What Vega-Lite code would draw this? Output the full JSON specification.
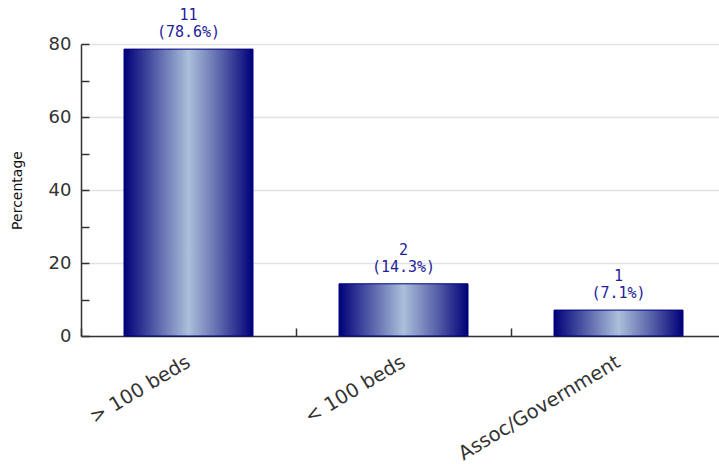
{
  "$schema": "https://vega.github.io/schema/vega-lite/v6.json",
  "width": 638,
  "height": 292,
  "autosize": {"type": "none"},
  "padding": {"left": 81, "top": 44, "right": 0, "bottom": 128},
  "background": "white",
  "config": {"view": {"stroke": null}},
  "data": {
    "values": [
      {"category": "> 100 beds", "count": 11, "pct": 78.6},
      {"category": "< 100 beds", "count": 2, "pct": 14.3},
      {"category": "Assoc/Government", "count": 1, "pct": 7.1}
    ]
  },
  "transform": [
    {"calculate": "'(' + format(datum.pct, '.1f') + '%)'", "as": "pctLabel"}
  ],
  "encoding": {
    "x": {
      "field": "category",
      "type": "nominal",
      "sort": null,
      "scale": {"range": [0, 645], "paddingInner": 0.4, "paddingOuter": 0.2},
      "axis": {
        "title": null,
        "bandPosition": -0.3333,
        "tickSize": -8,
        "tickColor": "#333333",
        "tickWidth": 1.5,
        "domainColor": "#333333",
        "domainWidth": 1.5,
        "labelAngle": -31,
        "labelAlign": "right",
        "labelBaseline": "middle",
        "labelFont": "DejaVu Sans",
        "labelFontSize": 19.5,
        "labelColor": "#333333",
        "labelPadding": 32,
        "labelLimit": 400
      }
    },
    "y": {
      "field": "pct",
      "type": "quantitative",
      "scale": {"domain": [0, 80], "nice": false},
      "axis": {
        "title": "Percentage",
        "titleFont": "DejaVu Sans",
        "titleFontSize": 14,
        "titleFontWeight": "normal",
        "titleColor": "#111111",
        "titleX": -57,
        "titleY": 146,
        "values": [0, 10, 20, 30, 40, 50, 60, 70, 80],
        "labelExpr": "datum.value % 20 === 0 ? datum.label : ''",
        "labelFont": "DejaVu Sans",
        "labelFontSize": 18,
        "labelColor": "#333333",
        "labelPadding": 18,
        "tickSize": -8,
        "tickColor": "#333333",
        "tickWidth": 1.5,
        "domainColor": "#333333",
        "domainWidth": 1.5,
        "grid": true,
        "gridColor": "#e2e2e2",
        "gridWidth": 1.5,
        "gridOpacity": {"condition": {"test": "datum.value % 20 === 0", "value": 1}, "value": 0}
      }
    }
  },
  "layer": [
    {
      "mark": {
        "type": "bar",
        "stroke": "#000080",
        "strokeWidth": 1,
        "color": {
          "gradient": "linear",
          "x1": 0, "y1": 0, "x2": 1, "y2": 0,
          "stops": [
            {"offset": 0, "color": "#000078"},
            {"offset": 0.5, "color": "#abc0da"},
            {"offset": 0.75, "color": "#5a64aa"},
            {"offset": 1, "color": "#000078"}
          ]
        }
      }
    },
    {
      "mark": {"type": "text", "baseline": "bottom", "dy": -9, "font": "DejaVu Sans Mono", "fontSize": 15, "color": "#22229a"},
      "encoding": {"text": {"field": "pctLabel"}}
    },
    {
      "mark": {"type": "text", "baseline": "bottom", "dy": -26, "font": "DejaVu Sans Mono", "fontSize": 15, "color": "#22229a"},
      "encoding": {"text": {"field": "count"}}
    }
  ]
}
